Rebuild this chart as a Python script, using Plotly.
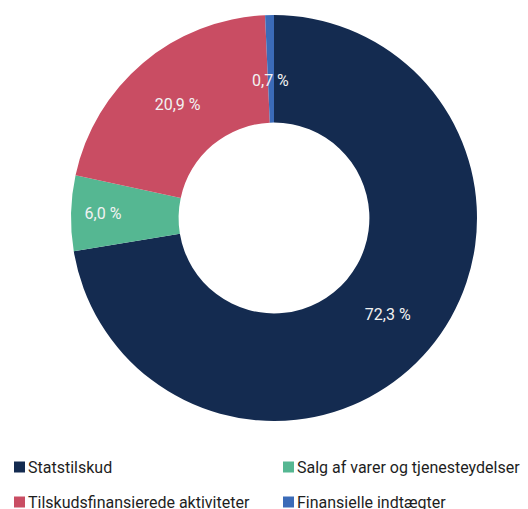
import math
import plotly.graph_objects as go

categories = ["Statstilskud", "Salg af varer og tjenesteydelser",
              "Tilskudsfinansierede aktiviteter", "Finansielle indtægter"]
values = [72.3, 6.0, 20.9, 0.7]
colors = ["#142b50", "#55b792", "#c94d63", "#3b6bb8"]

labels_txt = [f"{v:.1f}".replace(".", ",") + " %" for v in values]

# The page body has an 8px default margin, so the figure is sized to fit
# the 528x509 window and layout positions are given in window pixels.
OFF = 8
W, H = 528 - OFF, 509 - OFF


def px_x(x):
    return (x - OFF) / W


def px_y(y):
    return 1 - (y - OFF) / H


# donut box in window pixels: left, right, top, bottom
box = (71, 477, 15, 421)
dom_x = [px_x(box[0]), px_x(box[1])]
dom_y = [px_y(box[3]), px_y(box[2])]
HOLE = 0.47

# slices too thin for inside text get their label as annotation at mid-radius
small = [v / sum(values) < 0.03 for v in values]
texts = ["" if s else t for s, t in zip(small, labels_txt)]

fig = go.Figure()
fig.add_trace(go.Pie(
    labels=categories, values=values, text=texts,
    textinfo="text", texttemplate="%{text}",
    textposition="inside", insidetextorientation="horizontal",
    hole=HOLE, sort=False, direction="clockwise", rotation=0,
    marker=dict(colors=colors, line=dict(width=0)),
    textfont=dict(color="#f2f2f2", size=16, family="Roboto"),
    domain=dict(x=dom_x, y=dom_y),
    showlegend=False,
))

cx = (box[0] + box[1]) / 2
cy = (box[2] + box[3]) / 2
R = (box[1] - box[0]) / 2
rmid = R * (1 + HOLE) / 2
total = sum(values)
cum = 0
for v, t, s in zip(values, labels_txt, small):
    if s:
        ang = 2 * math.pi * (cum + v / 2) / total
        x = cx + rmid * math.sin(ang)
        y = cy - rmid * math.cos(ang)
        fig.add_annotation(x=px_x(x), y=px_y(y), xref="paper", yref="paper",
                           text=t, showarrow=False,
                           font=dict(color="#f2f2f2", size=16, family="Roboto"))
    cum += v

# Legend: 2 columns x 2 rows below the donut (window pixels)
col_x = [14, 283]     # left edge of swatch
row_y = [467, 502]    # row centre
SW = 11
for i, (c, col) in enumerate(zip(categories, colors)):
    x0 = col_x[i % 2]
    yc = row_y[i // 2]
    fig.add_shape(type="rect", xref="paper", yref="paper",
                  x0=px_x(x0), x1=px_x(x0 + SW),
                  y0=px_y(yc + SW / 2), y1=px_y(yc - SW / 2),
                  fillcolor=col, line=dict(width=0))
    fig.add_annotation(x=px_x(x0 + SW + 1), y=px_y(yc), xref="paper", yref="paper",
                       xanchor="left", yanchor="middle", showarrow=False,
                       text=c, font=dict(size=16, color="#1e1e1e", family="Roboto"))

fig.update_layout(
    width=W, height=H,
    margin=dict(l=0, r=0, t=0, b=0),
    paper_bgcolor="white", plot_bgcolor="white",
    showlegend=False,
)
fig.write_html("out.html")
